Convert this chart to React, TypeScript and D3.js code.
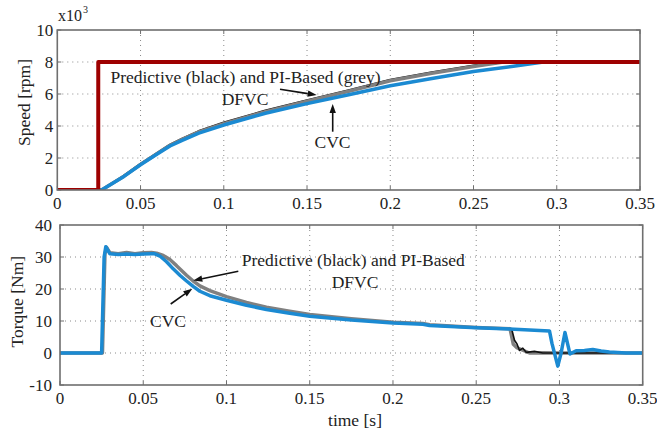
import * as d3 from "d3";

// ---- data (speed in x10^3 rpm, torque in Nm, time in s) ----
const xTicks = [0, 0.05, 0.1, 0.15, 0.2, 0.25, 0.3, 0.35];
const xTickLabels = ["0", "0.05", "0.1", "0.15", "0.2", "0.25", "0.3", "0.35"];
const speedTicks = [0, 2, 4, 6, 8, 10];
const torqueTicks = [-10, 0, 10, 20, 30, 40];
const torqueTickLabels = ["-10", "0", "10", "20", "30", "40"];

const refSpeedT = [0, 0.0246, 0.0246, 0.35];
const refSpeed = [0, 0, 8, 8];

const cvcSpeedT = [0, 0.0266, 0.04, 0.05, 0.06, 0.0677, 0.075, 0.085, 0.1, 0.125, 0.15, 0.175, 0.2, 0.225, 0.25, 0.275, 0.292, 0.35];
const cvcSpeed = [0, 0, 0.85, 1.58, 2.25, 2.75, 3.1, 3.55, 4.06, 4.8, 5.4, 5.95, 6.52, 6.97, 7.4, 7.75, 8.0, 8.0];

const piSpeedT = [0, 0.0266, 0.04, 0.05, 0.06, 0.0677, 0.075, 0.085, 0.1, 0.125, 0.15, 0.175, 0.2, 0.225, 0.25, 0.268, 0.35];
const piSpeed = [0, 0, 0.86, 1.6, 2.28, 2.8, 3.17, 3.63, 4.15, 4.9, 5.55, 6.17, 6.83, 7.3, 7.72, 8.0, 8.0];
const predSpeed = [0, 0, 0.87, 1.62, 2.3, 2.82, 3.2, 3.67, 4.2, 4.95, 5.6, 6.22, 6.88, 7.35, 7.76, 8.0, 8.0];

const cvcTorqueT = [0, 0.025, 0.0265, 0.0275, 0.03, 0.035, 0.04, 0.045, 0.05, 0.055, 0.057, 0.06, 0.064, 0.068, 0.072, 0.076, 0.08, 0.084, 0.09, 0.1, 0.112, 0.124, 0.137, 0.15, 0.175, 0.2, 0.218, 0.222, 0.25, 0.27, 0.294, 0.2955, 0.299, 0.301, 0.3033, 0.3063, 0.31, 0.315, 0.32, 0.325, 0.33, 0.34, 0.35];
const cvcTorque = [0, 0, 30, 33.2, 31, 30.8, 30.9, 30.8, 30.9, 31, 31, 30.3, 28.5, 26.3, 24.3, 22.5, 20.8, 19.3, 17.9, 16.5, 14.9, 13.6, 12.5, 11.5, 10.3, 9.4, 9.0, 8.6, 7.9, 7.5, 6.9, 3, -4.1, 0, 6.4, -0.3, 0.7, 0.8, 1.1, 0.6, 0.3, 0, 0];

const piTorqueT = [0, 0.0255, 0.027, 0.028, 0.03, 0.035, 0.04, 0.045, 0.05, 0.055, 0.058, 0.062, 0.066, 0.07, 0.076, 0.08, 0.084, 0.09, 0.1, 0.112, 0.124, 0.137, 0.15, 0.175, 0.2, 0.218, 0.222, 0.25, 0.2703, 0.2723, 0.2743, 0.282, 0.29, 0.3, 0.35];
const piTorque = [0, 0, 31, 33, 31.3, 31, 31.4, 31, 31.3, 31.4, 31.2, 30.5, 29.2, 27.3, 24.3, 22.5, 21, 19.5, 17.6, 15.8, 14.3, 13.1, 12, 10.7, 9.6, 9.2, 8.8, 8.0, 7.6, 2.7, 1.7, 0, 0.1, 0, 0];

const predTorqueT = [0.25, 0.2713, 0.273, 0.2745, 0.276, 0.278, 0.28, 0.285, 0.29, 0.35];
const predTorque = [7.9, 7.5, 4, 2.8, 0.8, 1.5, 0.2, 0.5, 0, 0];

const zip = (t: number[], v: number[]) => t.map((x, i) => [x, v[i]] as [number, number]);

const FONT = "'Liberation Serif', 'Times New Roman', serif";
const BLUE = "#1b8ad2";
const GREY = "#808080";
const RED = "#9e0000";
const FRAME = "#6f6f6f";
const TEXT = "#222";

type Series = { data: [number, number][]; color: string; width: number };

type PanelProps = {
  id: string;
  left: number;
  right: number;
  top: number;
  bottom: number;
  yDomain: [number, number];
  yTicks: number[];
  yTickLabels: string[];
  yLabelGap: number;
  series: Series[];
};

const Panel = ({ id, left, right, top, bottom, yDomain, yTicks, yTickLabels, yLabelGap, series }: PanelProps) => {
  const x = d3.scaleLinear().domain([0, 0.35]).range([left, right]);
  const y = d3.scaleLinear().domain(yDomain).range([bottom, top]);
  const line = d3.line<[number, number]>().x((d) => x(d[0])).y((d) => y(d[1]));
  return (
    <g>
      <defs>
        <clipPath id={id}>
          <rect x={left} y={top} width={right - left} height={bottom - top} />
        </clipPath>
      </defs>
      <rect x={left} y={top} width={right - left} height={bottom - top} fill="#fff" />
      {/* dotted grid */}
      {xTicks.slice(1, -1).map((t) => (
        <line key={"gx" + t} x1={x(t)} x2={x(t)} y1={top} y2={bottom} stroke="#8a8a8a" strokeWidth={1} strokeDasharray="1,4" />
      ))}
      {yTicks.slice(1, -1).map((t) => (
        <line key={"gy" + t} x1={left} x2={right} y1={y(t)} y2={y(t)} stroke="#8a8a8a" strokeWidth={1} strokeDasharray="1,4" />
      ))}
      {/* inward ticks */}
      {xTicks.map((t) => (
        <g key={"tx" + t}>
          <line x1={x(t)} x2={x(t)} y1={bottom} y2={bottom - 4} stroke={FRAME} />
          <line x1={x(t)} x2={x(t)} y1={top} y2={top + 4} stroke={FRAME} />
        </g>
      ))}
      {yTicks.map((t) => (
        <g key={"ty" + t}>
          <line x1={left} x2={left + 4} y1={y(t)} y2={y(t)} stroke={FRAME} />
          <line x1={right} x2={right - 4} y1={y(t)} y2={y(t)} stroke={FRAME} />
        </g>
      ))}
      <g clipPath={`url(#${id})`}>
        {series.map((s, i) => (
          <path key={i} d={line(s.data) ?? ""} fill="none" stroke={s.color} strokeWidth={s.width} strokeLinejoin="round" />
        ))}
      </g>
      <rect x={left} y={top} width={right - left} height={bottom - top} fill="none" stroke={FRAME} strokeWidth={1.6} />
      {xTicks.map((t, i) => (
        <text key={"lx" + t} x={x(t)} y={bottom + 19} textAnchor="middle" fontSize={17} fill={TEXT}>
          {xTickLabels[i]}
        </text>
      ))}
      {yTicks.map((t, i) => (
        <text key={"ly" + t} x={left - yLabelGap} y={y(t) + 6} textAnchor="end" fontSize={17} fill={TEXT}>
          {yTickLabels[i]}
        </text>
      ))}
    </g>
  );
};

const Arrow = ({ x1, y1, x2, y2 }: { x1: number; y1: number; x2: number; y2: number }) => {
  const a = Math.atan2(y2 - y1, x2 - x1);
  const L = 9;
  const W = 3.2;
  const bx = x2 - L * Math.cos(a);
  const by = y2 - L * Math.sin(a);
  const p1 = [bx + W * Math.sin(a), by - W * Math.cos(a)];
  const p2 = [bx - W * Math.sin(a), by + W * Math.cos(a)];
  return (
    <g>
      <line x1={x1} y1={y1} x2={bx} y2={by} stroke="#111" strokeWidth={1.6} />
      <path d={`M${x2},${y2}L${p1[0]},${p1[1]}L${p2[0]},${p2[1]}Z`} fill="#111" />
    </g>
  );
};

export default function App() {
  return (
    <svg width={657} height={435} style={{ position: "absolute", left: 0, top: 0, background: "#fff" }} fontFamily={FONT}>
      <rect width={657} height={435} fill="#fff" />
      <Panel
        id="clipSpeed"
        left={57.3}
        right={640}
        top={30}
        bottom={190}
        yDomain={[0, 10]}
        yTicks={speedTicks}
        yTickLabels={speedTicks.map(String)}
        yLabelGap={4}
        series={[
          { data: zip(piSpeedT, predSpeed), color: "#111", width: 2.5 },
          { data: zip(piSpeedT, piSpeed), color: GREY, width: 3.5 },
          { data: zip(cvcSpeedT, cvcSpeed), color: BLUE, width: 3.5 },
          { data: zip(refSpeedT, refSpeed), color: RED, width: 4 },
        ]}
      />
      <Panel
        id="clipTorque"
        left={60}
        right={642.7}
        top={225}
        bottom={385}
        yDomain={[-10, 40]}
        yTicks={torqueTicks}
        yTickLabels={torqueTickLabels}
        yLabelGap={8}
        series={[
          { data: zip(piTorqueT, piTorque), color: GREY, width: 3.5 },
          { data: zip(predTorqueT, predTorque), color: "#111", width: 1.6 },
          { data: zip(cvcTorqueT, cvcTorque), color: BLUE, width: 3.5 },
        ]}
      />

      {/* axis labels */}
      <text x={58} y={21} fontSize={16} fill={TEXT}>x10</text>
      <text x={83} y={13} fontSize={10} fill={TEXT}>3</text>
      <text transform="translate(30,102.5) rotate(-90)" textAnchor="middle" fontSize={17.5} fill={TEXT}>Speed [rpm]</text>
      <text transform="translate(23,301.7) rotate(-90)" textAnchor="middle" fontSize={17.5} fill={TEXT}>Torque [Nm]</text>
      <text x={355} y={426} textAnchor="middle" fontSize={17.5} fill={TEXT}>time [s]</text>

      {/* speed annotations */}
      <text x={245.5} y={83} textAnchor="middle" fontSize={17.5} fill={TEXT}>Predictive (black) and PI-Based (grey)</text>
      <text x={245} y={105} textAnchor="middle" fontSize={17.5} fill={TEXT}>DFVC</text>
      <Arrow x1={280} y1={89.3} x2={316.7} y2={95} />
      <text x={332.5} y={148.3} textAnchor="middle" fontSize={17.5} fill={TEXT}>CVC</text>
      <Arrow x1={332.7} y1={131.7} x2={332.7} y2={104} />

      {/* torque annotations */}
      <text x={353.3} y={266} textAnchor="middle" fontSize={17.5} fill={TEXT}>Predictive (black) and PI-Based</text>
      <text x={355} y={288} textAnchor="middle" fontSize={17.5} fill={TEXT}>DFVC</text>
      <Arrow x1={238.3} y1={271.2} x2={193.3} y2={280.5} />
      <text x={168} y={327} textAnchor="middle" fontSize={17.5} fill={TEXT}>CVC</text>
      <Arrow x1={170.7} y1={304} x2={192.3} y2={288.7} />
    </svg>
  );
}
